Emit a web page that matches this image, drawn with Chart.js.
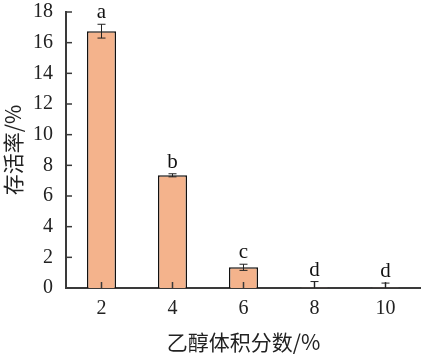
<!DOCTYPE html>
<html>
<head>
<meta charset="utf-8">
<script src="https://cdn.jsdelivr.net/npm/chart.js@4.4.0/dist/chart.umd.min.js"></script>
<style>
  html, body { margin: 0; padding: 0; background: #fff; }
  #wrap { width: 421px; height: 358px; }
</style>
</head>
<body>
<div id="wrap"><canvas id="survival-chart"></canvas></div>
<script>
// ethanol volume fraction categories and survival rate
const ethanolLevels = ['2', '4', '6', '8', '10'];
const survivalRate = [16.75, 7.35, 1.35, 0.02, 0.02];
const errorValues = [0.45, 0.1, 0.2, 0.4, 0.3];
const sigLetters = ['a', 'b', 'c', 'd', 'd'];
const yTicks = [0, 2, 4, 6, 8, 10, 12, 14, 16, 18];

const axisColor = '#3a3a3a';
const serif = '"Liberation Serif", "DejaVu Serif", serif';
const cjk = '"Noto Sans CJK SC", sans-serif';

// draws error bars, letters and inward tick marks
const extrasPlugin = {
  id: 'extras',
  afterDatasetsDraw(chart) {
    const ctx = chart.ctx;
    const xScale = chart.scales.x;
    const yScale = chart.scales.y;
    const area = chart.chartArea;
    ctx.save();

    // inward ticks on the y axis
    ctx.strokeStyle = axisColor;
    ctx.lineWidth = 1.5;
    yTicks.forEach(v => {
      let py = yScale.getPixelForValue(v);
      ctx.beginPath();
      ctx.moveTo(area.left, py);
      ctx.lineTo(area.left + 6, py);
      ctx.stroke();
    });
    // inward ticks on the x axis
    ethanolLevels.forEach((c, i) => {
      let px = xScale.getPixelForValue(i);
      ctx.beginPath();
      ctx.moveTo(px, area.bottom);
      ctx.lineTo(px, area.bottom - 6);
      ctx.stroke();
    });

    // error bars
    ctx.strokeStyle = '#222';
    ctx.lineWidth = 1;
    survivalRate.forEach((v, i) => {
      let px = xScale.getPixelForValue(i);
      let hi = yScale.getPixelForValue(v + errorValues[i]);
      let lo = yScale.getPixelForValue(Math.max(0, v - errorValues[i]));
      ctx.beginPath();
      ctx.moveTo(px, hi);
      ctx.lineTo(px, lo);
      ctx.moveTo(px - 4, hi);
      ctx.lineTo(px + 4, hi);
      if (v - errorValues[i] > 0) {
        ctx.moveTo(px - 4, lo);
        ctx.lineTo(px + 4, lo);
      }
      ctx.stroke();

      // significance letters
      ctx.fillStyle = '#111';
      ctx.font = '21px ' + serif;
      ctx.textAlign = 'center';
      ctx.textBaseline = 'alphabetic';
      ctx.fillText(sigLetters[i], px, hi - 6);
    });
    ctx.restore();
  }
};

new Chart('survival-chart', {
  type: 'bar',
  data: {
    labels: ethanolLevels,
    datasets: [{
      data: survivalRate,
      backgroundColor: '#F4B38C',
      borderColor: '#111',
      borderWidth: 1.5,
      barPercentage: 0.41,
      categoryPercentage: 1
    }]
  },
  options: {
    responsive: true,
    maintainAspectRatio: false,
    animation: false,
    layout: { padding: { top: 12, right: 0, left: 0, bottom: 0 } },
    plugins: {
      legend: { display: false },
      tooltip: { enabled: false }
    },
    scales: {
      x: {
        grid: { display: false, drawTicks: false },
        border: { display: true, color: axisColor, width: 2 },
        ticks: { color: '#222', padding: 9, font: { family: serif, size: 20 } },
        title: {
          display: true,
          text: '乙醇体积分数/%',
          color: '#222',
          font: { family: cjk, size: 21 },
          padding: { top: 3, bottom: 3 }
        },
        afterFit(scale) {
          scale.height = 70;
          scale.paddingLeft = 0;
          scale.paddingRight = 0;
        }
      },
      y: {
        min: 0,
        max: 18,
        afterBuildTicks(scale) { scale.ticks = yTicks.map(v => ({ value: v })); },
        grid: { display: false, drawTicks: false },
        border: { display: true, color: axisColor, width: 2 },
        ticks: { color: '#222', padding: 13, font: { family: serif, size: 20 } },
        title: {
          display: true,
          text: '存活率/%',
          color: '#222',
          font: { family: cjk, size: 21 },
          padding: { top: 0, bottom: 0 }
        },
        afterFit(scale) {
          scale.width = 66;
          scale.paddingTop = 0;
          scale.paddingBottom = 0;
        }
      }
    }
  },
  plugins: [extrasPlugin]
});
</script>
</body>
</html>
